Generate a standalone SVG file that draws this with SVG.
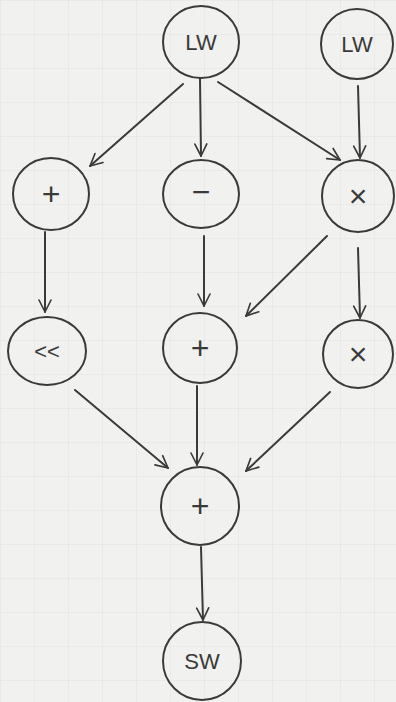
<svg xmlns="http://www.w3.org/2000/svg" width="396" height="702" viewBox="0 0 396 702">
<style>
.bg{fill:#f1f1ef}
.node ellipse{fill:none;stroke:#3a3a3a;stroke-width:2}
.node text{font-family:"Liberation Sans",Arial,sans-serif;font-size:22px;fill:#3a3a3a;text-anchor:middle;dominant-baseline:central}
.node text.op{font-size:32px;font-weight:300}
.edges path{fill:none;stroke:#3a3a3a;stroke-width:2;stroke-linecap:round;marker-end:url(#arr)}
</style>
<defs>
<marker id="arr" viewBox="0 0 20 20" refX="18" refY="10" markerWidth="15" markerHeight="15" markerUnits="userSpaceOnUse" orient="auto">
<path d="M2,2 L18,10 L2,18" fill="none" stroke="#3a3a3a" stroke-width="2.2" stroke-linecap="round" stroke-linejoin="round"/>
</marker>
<pattern id="gp" width="34" height="34" patternUnits="userSpaceOnUse">
<path d="M34,0 L0,0 L0,34" fill="none" stroke="#e3e3e1" stroke-width="1"/>
</pattern>
</defs>
<rect class="bg" x="0" y="0" width="396" height="702"/>
<rect x="0" y="0" width="396" height="702" fill="url(#gp)"/>
<g class="edges">
<path d="M183,84 L90,166"/>
<path d="M200,79 L201,156"/>
<path d="M218,82 L340,160"/>
<path d="M358,86 L360,158"/>
<path d="M45,232 L45,312"/>
<path d="M204,236 L204,306"/>
<path d="M327,236 L246,316"/>
<path d="M358,248 L360,318"/>
<path d="M75,390 L168,468"/>
<path d="M197,386 L197,465"/>
<path d="M330,392 L246,471"/>
<path d="M201,547 L203,620"/>
</g>
<g id="lw1" class="node"><ellipse cx="201" cy="42" rx="38" ry="36"/><text x="201" y="42">LW</text></g>
<g id="lw2" class="node"><ellipse cx="357" cy="44" rx="36" ry="35"/><text x="357" y="44">LW</text></g>
<g id="add1" class="node"><ellipse cx="51" cy="194" rx="38" ry="36"/><text class="op" x="51" y="194">+</text></g>
<g id="sub" class="node"><ellipse cx="201" cy="194" rx="38" ry="34"/><text class="op" x="201" y="192">−</text></g>
<g id="mul1" class="node"><ellipse cx="358" cy="196" rx="36" ry="36"/><text class="op" x="358" y="196">×</text></g>
<g id="shl" class="node"><ellipse cx="47" cy="351" rx="39" ry="34"/><text x="47" y="351">&lt;&lt;</text></g>
<g id="add2" class="node"><ellipse cx="200" cy="348" rx="37" ry="35"/><text class="op" x="200" y="348">+</text></g>
<g id="mul2" class="node"><ellipse cx="358" cy="354" rx="35" ry="34"/><text class="op" x="358" y="354">×</text></g>
<g id="add3" class="node"><ellipse cx="200" cy="506" rx="39" ry="39"/><text class="op" x="200" y="506">+</text></g>
<g id="sw" class="node"><ellipse cx="202" cy="661" rx="39" ry="39"/><text x="202" y="661">SW</text></g>
</svg>
